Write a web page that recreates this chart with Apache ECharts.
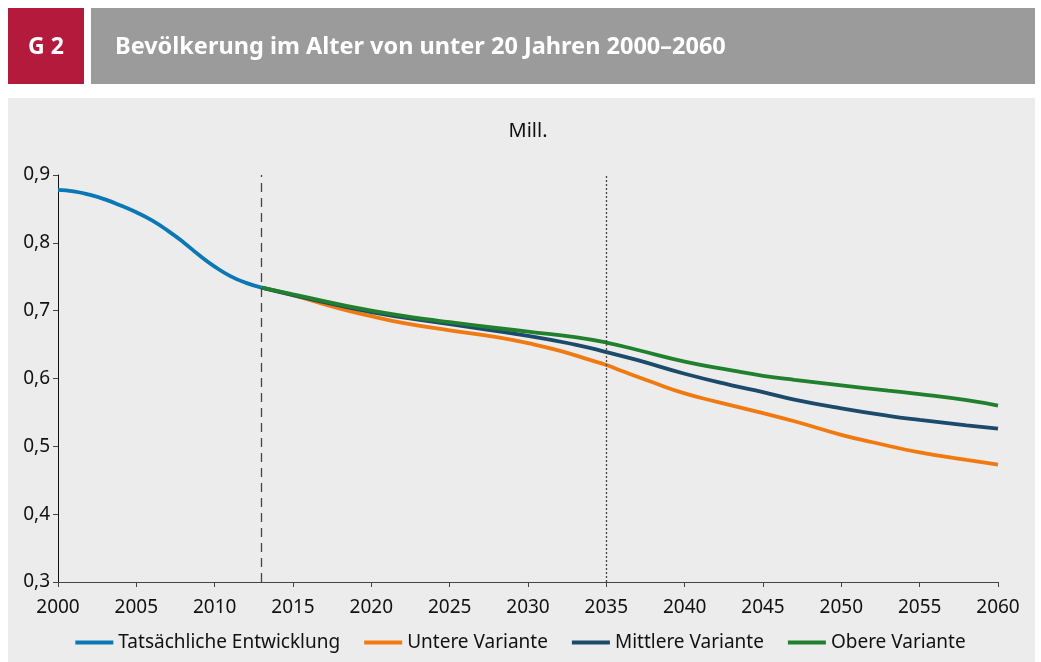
<!DOCTYPE html>
<html>
<head>
<meta charset="utf-8">
<script src="https://cdn.jsdelivr.net/npm/echarts@6/dist/echarts.min.js"></script>
<style>
html,body{margin:0;padding:0;background:#fff;}
#c{width:1041px;height:662px;}
</style>
</head>
<body>
<div id="c"></div>
<script>
const titleText = 'Bevölkerung im Alter von unter 20 Jahren 2000–2060';
const chartNo = 'G 2';
const unitLabel = 'Mill.';
const seriesNames = ['Tatsächliche Entwicklung', 'Untere Variante', 'Mittlere Variante', 'Obere Variante'];

const actualYears = [2000,2001,2002,2003,2004,2005,2006,2007,2008,2009,2010,2011,2012,2013];
const actualValues = [0.878,0.876,0.871,0.864,0.855,0.845,0.833,0.818,0.801,0.782,0.765,0.751,0.741,0.734];

const lowYears = [2013,2015,2018,2020,2022,2025,2028,2030,2032,2034,2035,2036,2038,2040,2042,2045,2047,2050,2052,2055,2058,2060];
const lowValues = [0.734,0.723,0.703,0.692,0.682,0.671,0.661,0.652,0.641,0.627,0.620,0.611,0.594,0.578,0.566,0.549,0.537,0.517,0.506,0.491,0.480,0.473];

const midYears = [2013,2015,2020,2025,2030,2033,2035,2037,2040,2043,2045,2047,2050,2053,2055,2058,2060];
const midValues = [0.734,0.723,0.698,0.680,0.663,0.650,0.639,0.627,0.607,0.590,0.580,0.569,0.556,0.545,0.539,0.531,0.526];

const highYears = [2013,2015,2020,2025,2030,2033,2035,2037,2040,2043,2045,2047,2050,2053,2055,2058,2060];
const highValues = [0.734,0.724,0.700,0.683,0.669,0.661,0.653,0.642,0.625,0.612,0.604,0.598,0.590,0.582,0.577,0.568,0.560];

const markerYears = [2013, 2035];

const colors = ['#0a78b4', '#f07a10', '#1b4a6b', '#21802e'];
const FONT = '"Noto Sans", "Open Sans", sans-serif';

function pairs(xs, ys){ return xs.map((x,i)=>[x, ys[i]]); }

const chart = echarts.init(document.getElementById('c'), null, {renderer:'canvas'});

function lineSeries(name, xs, ys, color, extra){
  return Object.assign({
    name: name, type: 'line', data: pairs(xs, ys), smooth: 0.5,
    showSymbol: false, symbol: 'none',
    lineStyle: {color: color, width: 3.8},
    itemStyle: {color: color},
    z: 3
  }, extra || {});
}

chart.setOption({
  backgroundColor: '#ffffff',
  animation: false,
  textStyle: {fontFamily: FONT},
  graphic: [
    {type:'rect', shape:{x:8, y:8, width:76, height:76}, style:{fill:'#b31a3c'}, z:0},
    {type:'rect', shape:{x:91, y:8, width:944, height:76}, style:{fill:'#9b9b9b'}, z:0},
    {type:'rect', shape:{x:8, y:98, width:1027, height:564}, style:{fill:'#ececec'}, z:-10},
    {type:'text', x:46, y:47, style:{text:chartNo, fill:'#fff', font:'bold 23px ' + FONT, align:'center', verticalAlign:'middle'}, z:1},
    {type:'text', x:115, y:47, style:{text:titleText, fill:'#fff', font:'bold 23.5px ' + FONT, align:'left', verticalAlign:'middle'}, z:1},
    {type:'text', x:528, y:131, style:{text:unitLabel, fill:'#111', font:'20px ' + FONT, align:'center', verticalAlign:'middle'}, z:1}
  ],
  grid: {left:58, right:43, top:175, bottom:80, containLabel:false},
  legend: {
    data: seriesNames,
    bottom: 5, left: 'center',
    icon: 'rect', itemWidth: 38, itemHeight: 4, itemGap: 24,
    textStyle: {fontSize: 19, color: '#111', fontFamily: FONT}
  },
  xAxis: {
    type: 'value', min: 2000, max: 2060, interval: 5,
    axisLine: {show:true, lineStyle:{color:'#444', width:1}},
    axisTick: {show:true, inside:false, length:5, lineStyle:{color:'#444'}},
    splitLine: {show:false},
    axisLabel: {fontSize:19, color:'#111', margin:16, formatter: v => String(v)}
  },
  yAxis: {
    type: 'value', min: 0.3, max: 0.9, interval: 0.1,
    axisLine: {show:true, lineStyle:{color:'#111', width:1}},
    axisTick: {show:true, inside:false, length:5, lineStyle:{color:'#444'}},
    splitLine: {show:false},
    axisLabel: {fontSize:19, color:'#111', margin:8, formatter: v => v.toFixed(1).replace('.', ',')}
  },
  series: [
    lineSeries(seriesNames[0], actualYears, actualValues, colors[0], {
      markLine: {
        silent: true, symbol: ['none','none'], label:{show:false},
        data: [
          {xAxis: markerYears[0], lineStyle:{type:[9,6], color:'#444', width:1.3}},
          {xAxis: markerYears[1], lineStyle:{type:[2,2], color:'#444', width:1.3}}
        ]
      }
    }),
    lineSeries(seriesNames[1], lowYears, lowValues, colors[1]),
    lineSeries(seriesNames[2], midYears, midValues, colors[2]),
    lineSeries(seriesNames[3], highYears, highValues, colors[3])
  ]
});
</script>
</body>
</html>
